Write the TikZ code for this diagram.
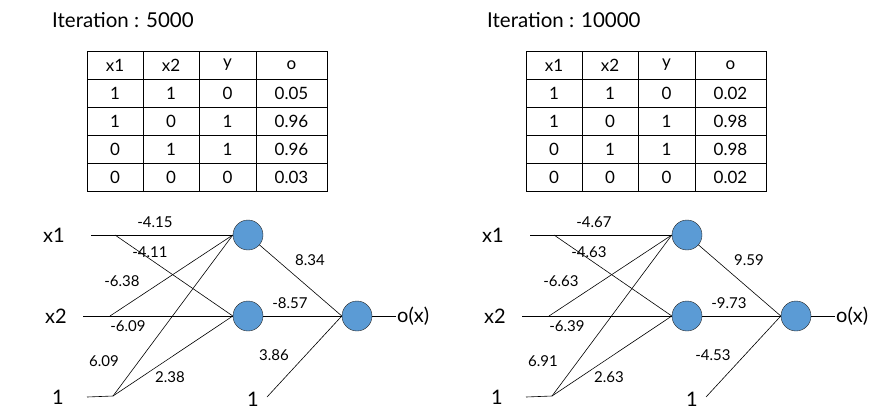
\documentclass[tikz,border=0pt]{standalone}
\usepackage{fontspec}
\setsansfont{Lato}
\usetikzlibrary{positioning}
\definecolor{neuronblue}{RGB}{91,155,213}
\tikzset{
  neuron/.style={circle,draw=black!85,fill=neuronblue,minimum size=30pt,inner sep=0pt},
  inlab/.style={font=\sffamily\fontsize{20}{22}\selectfont,inner sep=1pt},
  wlab/.style={font=\sffamily\fontsize{15}{17}\selectfont,inner sep=1pt},
  cell/.style={draw,line width=1pt,minimum height=28pt,inner sep=0pt,
    font=\sffamily\fontsize{17}{19}\selectfont},
  titlelab/.style={font=\sffamily\fontsize{20.5}{22}\selectfont,anchor=west,inner sep=0pt},
  wire/.style={line width=0.6pt}
}

\begin{document}
\begin{tikzpicture}[x=1pt,y=-1pt]
\useasboundingbox (0,0) rectangle (885,413);
\foreach \P/\dx/\tx/\itr/\oA/\oB/\oC/\oD/\wA/\wB/\wC/\wD/\wE/\wF/\wG/\wH/\wI in
{L/0/52/5000/0.05/0.96/0.96/0.03/-4.15/-4.11/-6.38/-6.09/6.09/2.38/8.34/-8.57/3.86,
 R/439/48/10000/0.02/0.98/0.98/0.02/-4.67/-4.63/-6.63/-6.39/6.91/2.63/9.59/-9.73/-4.53}
 {\begin{scope}[xshift=\dx]
  % title and truth table
  \node[titlelab] (\P-title) at (\tx,20) {Iteration : \itr};
  \foreach \vA/\vB/\vC/\vD [count=\r] in
  {x1/x2/y/o, 1/1/0/\oA, 1/0/1/\oB, 0/1/1/\oC, 0/0/0/\oD}
   {\pgfmathsetmacro\cy{37+28*\r}
    \node[cell,minimum width=56pt] (\P-t\r-1) at (115,\cy) {\vA};
    \node[cell,minimum width=56pt] (\P-t\r-2) at (171,\cy) {\vB};
    \node[cell,minimum width=57pt] (\P-t\r-3) at (227.5,\cy) {\vC};
    \node[cell,minimum width=71pt] (\P-t\r-4) at (291.5,\cy) {\vD};}
  % network
  \node[neuron] (\P-h1) at (248,235) {};
  \node[neuron] (\P-h2) at (248,316) {};
  \node[neuron] (\P-o) at (357,316) {};
  \node[inlab] (\P-x1) at (54,235) {x1};
  \node[inlab] (\P-x2) at (56,316) {x2};
  \node[inlab] (\P-b) at (58,397) {1};
  \node[inlab] (\P-b2) at (253,399) {1};
  \node[inlab,anchor=west] (\P-out) at (396,316) {o(x)};
  \coordinate (\P-x1s) at (91,235);
  \coordinate (\P-x1j) at (115,235);
  \coordinate (\P-x2s) at (83,316);
  \coordinate (\P-x2j) at (110,316);
  \coordinate (\P-bs) at (87,397);
  \coordinate (\P-bj) at (113,396);
  \coordinate (\P-b2s) at (267,397);
  \draw[wire] (\P-x1s) -- (\P-h1.west);
  \draw[wire] (\P-x1j) -- (\P-h2.west);
  \draw[wire] (\P-x2s) -- (\P-h2.west);
  \draw[wire] (\P-x2j) -- (\P-h1.west);
  \draw[wire] (\P-bs) -- (\P-bj) -- (\P-h1.west);
  \draw[wire] (\P-bj) -- (\P-h2.west);
  \draw[wire] (\P-h1) -- (\P-o.west);
  \draw[wire] (\P-h2) -- (\P-o.west);
  \draw[wire] (\P-b2s) -- (\P-o.west);
  \draw[wire] (\P-o) -- (\P-out);
  % weights
  \node[wlab] (\P-w1) at (155,222) {\wA};
  \node[wlab] (\P-w2) at (150,252) {\wB};
  \node[wlab] (\P-w3) at (122,281) {\wC};
  \node[wlab] (\P-w4) at (128,326) {\wD};
  \node[wlab] (\P-w5) at (104,361) {\wE};
  \node[wlab] (\P-w6) at (170,377) {\wF};
  \node[wlab] (\P-w7) at (310,260) {\wG};
  \node[wlab] (\P-w8) at (290,303) {\wH};
  \node[wlab] (\P-w9) at (274,355) {\wI};
 \end{scope}}
\end{tikzpicture}
\end{document}
